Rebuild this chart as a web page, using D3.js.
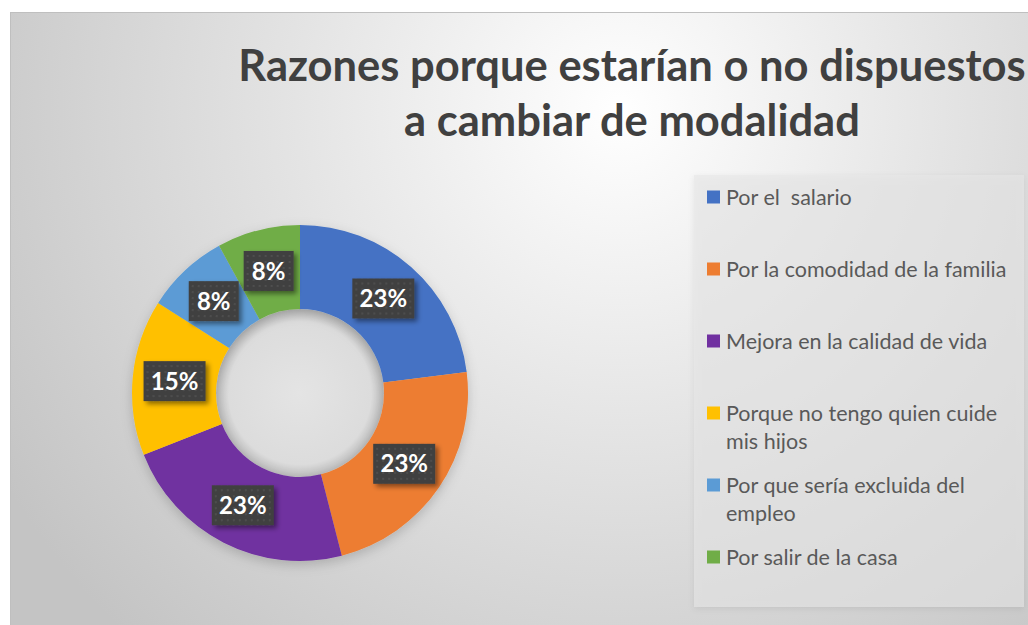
<!DOCTYPE html>
<html>
<head>
<meta charset="utf-8">
<script src="https://cdn.jsdelivr.net/npm/d3@7"></script>
<style>
  html, body { margin: 0; padding: 0; background: #ffffff; }
  svg { display: block; }
</style>
</head>
<body>
<svg id="chart" width="1028" height="625"></svg>
<script>
"use strict";

// Chart data
const categories = [
  "Por el  salario",
  "Por la comodidad de la familia",
  "Mejora en la calidad de vida",
  "Porque no tengo quien cuide mis hijos",
  "Por que sería excluida del empleo",
  "Por salir de la casa"
];
const legendLines = [
  ["Por el  salario"],
  ["Por la comodidad de la familia"],
  ["Mejora en la calidad de vida"],
  ["Porque no tengo quien cuide", "mis hijos"],
  ["Por que sería excluida del", "empleo"],
  ["Por salir de la casa"]
];
const percents = [23, 23, 23, 15, 8, 8];
const colors = ["#4472C4", "#ED7D31", "#7030A0", "#FFC000", "#5B9BD5", "#70AD47"];
const titleLines = ["Razones porque estarían o no dispuestos", "a cambiar de modalidad"];

const width = 1028, height = 625;
const svg = d3.select("#chart");
const defs = svg.append("defs");

// Background gradient of the chart area
const bg = defs.append("radialGradient")
  .attr("id", "bgGrad")
  .attr("gradientUnits", "userSpaceOnUse")
  .attr("cx", 620).attr("cy", 110).attr("r", 720);
bg.append("stop").attr("offset", "0%").attr("stop-color", "#ffffff");
bg.append("stop").attr("offset", "45%").attr("stop-color", "#e4e4e4");
bg.append("stop").attr("offset", "100%").attr("stop-color", "#c4c4c4");

const shadow = defs.append("filter").attr("id", "shadow")
  .attr("x", "-20%").attr("y", "-20%").attr("width", "150%").attr("height", "150%");
shadow.append("feDropShadow").attr("dx", 3).attr("dy", 3).attr("stdDeviation", 2.5)
  .attr("flood-color", "#000").attr("flood-opacity", 0.45);

const softShadow = defs.append("filter").attr("id", "softShadow")
  .attr("x", "-20%").attr("y", "-20%").attr("width", "140%").attr("height", "140%");
softShadow.append("feDropShadow").attr("dx", 0).attr("dy", 4).attr("stdDeviation", 6)
  .attr("flood-color", "#000").attr("flood-opacity", 0.18);

const boxShadow = defs.append("filter").attr("id", "boxShadow")
  .attr("x", "-10%").attr("y", "-10%").attr("width", "120%").attr("height", "120%");
boxShadow.append("feDropShadow").attr("dx", 0).attr("dy", 2).attr("stdDeviation", 3)
  .attr("flood-color", "#000").attr("flood-opacity", 0.12);

// Inner hole shading
const hole = defs.append("radialGradient").attr("id", "holeGrad");
hole.append("stop").attr("offset", "0%").attr("stop-color", "#e4e4e4");
hole.append("stop").attr("offset", "85%").attr("stop-color", "#dcdcdc");
hole.append("stop").attr("offset", "100%").attr("stop-color", "#bdbdbd");

// dotted texture for the label boxes
const pat = defs.append("pattern").attr("id", "dots")
  .attr("patternUnits", "userSpaceOnUse").attr("width", 6).attr("height", 6);
pat.append("rect").attr("width", 6).attr("height", 6).attr("fill", "#404040");
pat.append("circle").attr("cx", 3).attr("cy", 3).attr("r", 0.9).attr("fill", "#555555");

// Chart area
svg.append("rect")
  .attr("x", 10.5).attr("y", 12.5)
  .attr("width", width).attr("height", height)
  .attr("fill", "url(#bgGrad)")
  .attr("stroke", "#bfbfbf").attr("stroke-width", 1);

// Title
svg.append("g")
  .selectAll("text")
  .data(titleLines)
  .join("text")
  .attr("x", 632)
  .attr("y", (d, i) => 81 + i * 55)
  .attr("text-anchor", "middle")
  .attr("font-family", "Lato, 'Open Sans', sans-serif")
  .attr("font-weight", "bold")
  .attr("font-size", 43.5)
  .attr("fill", "#404040")
  .text(d => d);

// Donut
const cx = 300, cy = 393;
const outerR = 168, innerR = 84;
const pie = d3.pie().sort(null).value(d => d);
const arcs = pie(percents);
const arc = d3.arc().innerRadius(innerR).outerRadius(outerR);
const labelArc = d3.arc().innerRadius((innerR + outerR) / 2).outerRadius((innerR + outerR) / 2);

const donut = svg.append("g").attr("transform", "translate(" + cx + "," + cy + ")");

donut.append("circle").attr("r", innerR).attr("fill", "url(#holeGrad)");

donut.append("g")
  .attr("filter", "url(#softShadow)")
  .selectAll("path")
  .data(arcs)
  .join("path")
  .attr("d", arc)
  .attr("fill", (d, i) => colors[i]);

// Data labels
const labels = donut.append("g")
  .selectAll("g")
  .data(arcs)
  .join("g")
  .attr("transform", d => "translate(" + labelArc.centroid(d) + ")");

labels.append("rect")
  .attr("x", d => d.data >= 10 ? -31 : -25)
  .attr("y", -20)
  .attr("width", d => d.data >= 10 ? 62 : 50)
  .attr("height", 40)
  .attr("fill", "url(#dots)")
  .attr("filter", "url(#shadow)");

labels.append("text")
  .attr("text-anchor", "middle")
  .attr("dy", "0.36em")
  .attr("font-family", "Lato, 'Open Sans', sans-serif")
  .attr("font-weight", "bold")
  .attr("font-size", 24)
  .attr("fill", "#ffffff")
  .text(d => d.data + "%");

// Legend
const legend = svg.append("g");
legend.append("rect")
  .attr("x", 694).attr("y", 175)
  .attr("width", 330).attr("height", 432)
  .attr("fill", "#e6e6e6").attr("fill-opacity", 0.6)
  .attr("filter", "url(#boxShadow)");

const items = legend.selectAll("g.item")
  .data(categories)
  .join("g")
  .attr("class", "item")
  .attr("transform", (d, i) => "translate(707," + (197 + i * 72) + ")");

items.append("rect")
  .attr("x", 0).attr("y", -6.5)
  .attr("width", 13).attr("height", 13)
  .attr("fill", (d, i) => colors[i]);

items.append("text")
  .attr("font-family", "Lato, 'Open Sans', sans-serif")
  .attr("font-size", 21.5)
  .attr("fill", "#595959")
  .style("white-space", "pre")
  .selectAll("tspan")
  .data((d, i) => legendLines[i])
  .join("tspan")
  .attr("x", 19)
  .attr("y", (d, j) => j * 28)
  .attr("dy", "0.35em")
  .text(d => d);
</script>
</body>
</html>
